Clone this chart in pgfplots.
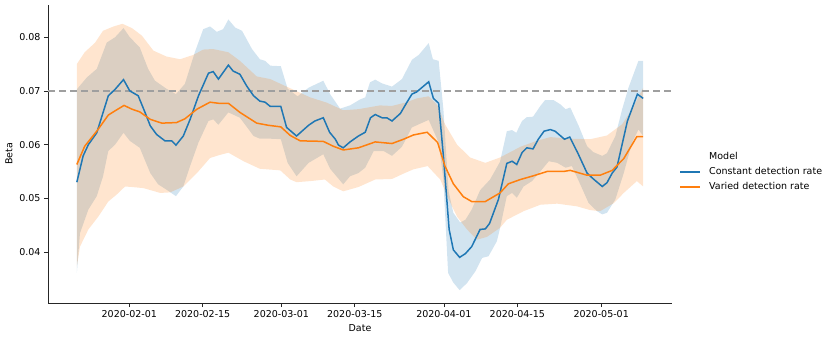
\documentclass[border=0pt]{standalone}
\usepackage{fontspec}
\setmainfont{DejaVu Sans}
\usepackage{pgfplots}
\pgfplotsset{compat=1.18}
\usepgfplotslibrary{fillbetween}
\usepackage{pgfplotstable}
\usetikzlibrary{calc}
\definecolor{tabblue}{HTML}{1F77B4}
\definecolor{taborange}{HTML}{FF7F0E}

% day 0 = 2020-02-01
\pgfplotstableread{
x y
-10 0.0530
-8.8 0.0579
-7.8 0.0600
-6.2 0.0622
-4.0 0.0691
-2.7 0.0703
-1.1 0.0721
0.1 0.0700
1.7 0.0691
3.0 0.0660
4.0 0.0635
5.2 0.0619
6.8 0.0607
8.1 0.0607
8.9 0.0599
10.3 0.0616
11.6 0.0647
13.2 0.0691
15.1 0.0733
16.0 0.0736
17.0 0.0722
18.9 0.0748
19.8 0.0737
21.1 0.0731
22.4 0.0709
23.7 0.0691
24.9 0.0681
25.9 0.0679
26.9 0.0671
28.9 0.0671
30.0 0.0632
31.9 0.0616
34.2 0.0636
35.4 0.0644
37.0 0.0650
38.2 0.0623
39.3 0.0610
39.9 0.0599
40.8 0.0594
42.1 0.0605
43.7 0.0616
45.0 0.0623
46.0 0.0650
46.9 0.0656
48.2 0.0650
49.1 0.0650
50.1 0.0644
51.7 0.0658
52.9 0.0678
53.9 0.0694
54.8 0.0698
57.1 0.0717
58.0 0.0686
59.0 0.0677
59.9 0.0579
61.0 0.0442
61.8 0.0404
63.0 0.0390
64.1 0.0397
65.3 0.0410
66.9 0.0442
67.9 0.0443
68.7 0.0453
70.4 0.0498
72.0 0.0565
73.0 0.0569
73.9 0.0563
74.9 0.0585
75.8 0.0594
77.0 0.0592
78.0 0.0610
79.1 0.0625
80.3 0.0628
81.2 0.0625
83.0 0.0610
84.0 0.0614
85.5 0.0585
87.3 0.0547
88.5 0.0536
90.2 0.0522
91.1 0.0529
92.1 0.0547
93.0 0.0558
95.0 0.0644
96.9 0.0694
98.0 0.0686
}\constmean

\pgfplotstableread{
x y
-10 0.0703
-8.1 0.0725
-6.2 0.0741
-4.3 0.0790
-2.7 0.0800
-1.1 0.0817
0.1 0.0800
2.0 0.0781
3.6 0.0741
4.9 0.0719
7.1 0.0704
8.9 0.0694
10.6 0.0713
12.5 0.0772
14.1 0.0815
15.4 0.0820
16.7 0.0810
17.9 0.0815
18.9 0.0833
20.2 0.0818
21.5 0.0812
23.4 0.0778
24.9 0.0759
25.9 0.0756
26.9 0.0747
28.9 0.0746
30.2 0.0704
32.1 0.0690
34.2 0.0706
37.0 0.0719
38.3 0.0694
40.2 0.0667
42.1 0.0673
44.0 0.0684
45.0 0.0688
45.9 0.0716
46.9 0.0721
48.2 0.0714
50.1 0.0708
52.0 0.0722
53.9 0.0758
55.2 0.0767
57.1 0.0789
57.9 0.0759
59.0 0.0756
59.9 0.0666
60.9 0.0513
61.8 0.0473
63.1 0.0455
64.1 0.0460
65.3 0.0479
66.9 0.0515
68.8 0.0535
70.7 0.0568
72.0 0.0625
73.0 0.0627
73.8 0.0622
74.9 0.0644
75.8 0.0651
77.0 0.0652
78.4 0.0672
79.3 0.0683
80.9 0.0683
82.2 0.0675
83.2 0.0666
84.1 0.0669
85.7 0.0635
87.3 0.0597
88.5 0.0586
90.2 0.0579
91.1 0.0584
92.7 0.0616
94.0 0.0666
95.2 0.0706
97.1 0.0756
98.0 0.0756
}\constupper

\pgfplotstableread{
x y
-10 0.0361
-9.4 0.0435
-7.8 0.0479
-6.2 0.0504
-5.0 0.0541
-4.0 0.0588
-2.7 0.0600
-1.1 0.0622
0.1 0.0607
2.0 0.0594
4.0 0.0547
5.5 0.0526
7.1 0.0516
8.9 0.0504
10.3 0.0522
11.6 0.0560
13.2 0.0604
15.1 0.0644
16.0 0.0647
17.0 0.0637
18.9 0.0660
21.1 0.0650
23.7 0.0616
24.9 0.0611
26.9 0.0611
28.9 0.0610
30.2 0.0566
31.9 0.0541
34.2 0.0566
37.0 0.0582
38.3 0.0555
40.8 0.0526
42.1 0.0541
43.7 0.0547
45.0 0.0557
46.6 0.0588
48.5 0.0588
50.1 0.0579
52.0 0.0596
53.9 0.0632
57.1 0.0646
59.0 0.0604
59.9 0.0535
60.8 0.0361
61.8 0.0343
63.0 0.0329
64.4 0.0342
66.0 0.0364
67.3 0.0389
68.5 0.0392
70.1 0.0420
70.6 0.0440
72.0 0.0504
73.0 0.0510
73.9 0.0501
75.2 0.0522
76.8 0.0532
78.4 0.0550
80.0 0.0569
81.6 0.0566
83.2 0.0557
84.4 0.0560
86.0 0.0526
87.6 0.0491
89.2 0.0476
90.2 0.0470
91.1 0.0473
92.7 0.0498
94.3 0.0547
95.9 0.0604
97.1 0.0628
98.0 0.0616
}\constlower

\pgfplotstableread{
x y
-10 0.0563
-8.5 0.0597
-6.2 0.0625
-4.0 0.0655
-2.7 0.0663
-1.0 0.0673
0.5 0.0666
2.0 0.0661
4.0 0.0647
6.2 0.0640
9.0 0.0641
10.6 0.0648
12.9 0.0666
15.4 0.0679
17.0 0.0677
18.9 0.0677
21.1 0.0660
24.3 0.0640
26.5 0.0636
28.9 0.0633
30.7 0.0617
32.6 0.0607
37.0 0.0606
38.9 0.0597
40.8 0.0590
43.7 0.0594
46.9 0.0605
50.1 0.0602
52.3 0.0610
54.2 0.0618
56.8 0.0623
58.8 0.0604
60.2 0.0560
61.8 0.0527
63.7 0.0503
65.3 0.0494
67.9 0.0494
70.7 0.0510
72.3 0.0527
74.6 0.0535
77.1 0.0542
79.7 0.0550
82.8 0.0550
84.1 0.0552
87.3 0.0543
89.8 0.0543
92.1 0.0552
94.3 0.0574
96.8 0.0615
98.0 0.0615
}\variedmean

\pgfplotstableread{
x y
-10 0.0750
-8.5 0.0772
-6.5 0.0790
-5.0 0.0812
-3.0 0.0820
-1.3 0.0825
0.5 0.0817
2.4 0.0803
4.6 0.0775
7.1 0.0764
9.7 0.0759
12.2 0.0767
14.1 0.0777
16.0 0.0778
18.9 0.0772
21.1 0.0756
24.3 0.0727
26.9 0.0722
30.0 0.0708
34.5 0.0688
37.7 0.0678
40.8 0.0664
43.7 0.0666
47.8 0.0673
50.1 0.0672
52.9 0.0679
54.8 0.0686
57.1 0.0690
58.8 0.0673
60.2 0.0638
62.5 0.0600
65.0 0.0576
67.9 0.0566
70.7 0.0576
74.6 0.0596
77.7 0.0607
80.3 0.0614
84.1 0.0611
87.9 0.0610
91.1 0.0617
94.0 0.0638
96.2 0.0671
98.0 0.0706
}\variedupper

\pgfplotstableread{
x y
-10 0.0373
-9.4 0.0410
-7.8 0.0442
-5.9 0.0466
-4.0 0.0494
-2.4 0.0507
-0.8 0.0522
0.5 0.0521
2.7 0.0519
5.9 0.0510
7.8 0.0511
10.3 0.0522
12.9 0.0547
15.4 0.0575
17.0 0.0580
18.9 0.0585
21.8 0.0569
24.9 0.0555
28.8 0.0552
30.7 0.0535
31.9 0.0530
34.5 0.0532
37.3 0.0535
38.9 0.0522
40.8 0.0513
43.7 0.0521
46.9 0.0535
50.1 0.0536
52.3 0.0546
54.2 0.0554
56.9 0.0560
59.3 0.0535
60.9 0.0498
62.5 0.0466
64.4 0.0442
66.3 0.0423
68.2 0.0428
70.7 0.0445
72.0 0.0460
75.2 0.0476
78.4 0.0488
81.6 0.0490
85.4 0.0485
87.9 0.0478
89.8 0.0476
92.4 0.0491
94.3 0.0510
96.8 0.0532
98.0 0.0522
}\variedlower

\begin{document}
\begin{tikzpicture}[font=\fontsize{9.5}{11}\selectfont]
\begin{axis}[
  name=ax,
  scale only axis, width=624pt, height=298pt,
  xmin=-15.5, xmax=103.5, ymin=0.0305, ymax=0.0860,
  axis x line*=bottom, axis y line*=left,
  axis line style={-, black!85, line width=0.8pt},
  tick style={black!85, line width=0.8pt},
  tick align=outside, major tick length=4pt,
  xtick={0,14,29,43,60,74,90},
  xticklabels={2020-02-01,2020-02-15,2020-03-01,2020-03-15,2020-04-01,2020-04-15,2020-05-01},
  ytick={0.04,0.05,0.06,0.07,0.08},
  scaled y ticks=false,
  yticklabel style={/pgf/number format/.cd, fixed, fixed zerofill, precision=2, assume math mode=true},
  xlabel={Date}, ylabel={Beta},
  legend style={at={(1.007,0.44)}, anchor=west, draw=none, fill=none, row sep=2.5pt},
  legend cell align=left,
  legend image code/.code={\draw[#1, line width=1.8pt] (0pt,0pt) -- (20pt,0pt); \path (26pt,0pt);},
]
\addplot[name path=cu, draw=none, forget plot] table {\constupper};
\addplot[name path=cl, draw=none, forget plot] table {\constlower};
\addplot[tabblue, fill opacity=0.2, draw=none, forget plot] fill between[of=cu and cl];
\addplot[name path=vu, draw=none, forget plot] table {\variedupper};
\addplot[name path=vl, draw=none, forget plot] table {\variedlower};
\addplot[taborange, fill opacity=0.2, draw=none, forget plot] fill between[of=vu and vl];
\addplot[gray!75, line width=1.5pt, dash pattern=on 7pt off 4pt, forget plot] coordinates {(-15.5,0.07) (103.5,0.07)};
\addlegendimage{empty legend}
\addlegendentry{Model}
\addplot[tabblue, line width=1.5pt] table {\constmean};
\addlegendentry{Constant detection rate}
\addplot[taborange, line width=1.5pt] table {\variedmean};
\addlegendentry{Varied detection rate}
\end{axis}
\path ($(ax.south west)+(-48pt,-37pt)$) rectangle ($(ax.north east)+(159pt,5pt)$);
\end{tikzpicture}
\end{document}
